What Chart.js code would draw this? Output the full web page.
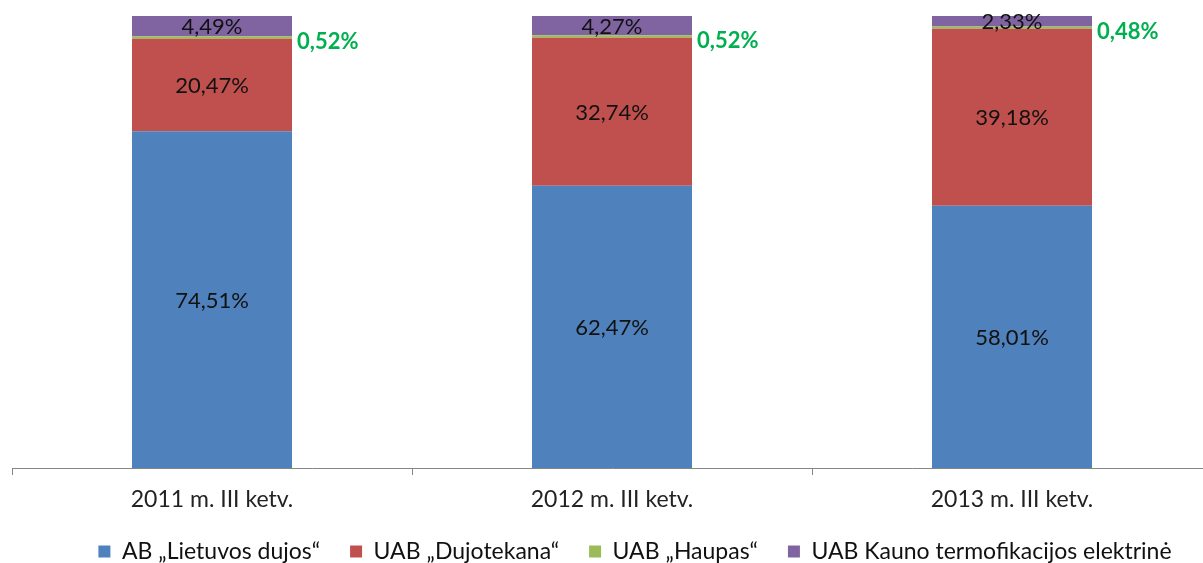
<!DOCTYPE html>
<html>
<head>
<meta charset="utf-8">
<script src="https://cdn.jsdelivr.net/npm/chart.js@4.4.0/dist/chart.umd.min.js"></script>
<style>
  html, body { margin: 0; padding: 0; background: #fff; overflow: hidden; }
  #wrap { position: relative; width: 1270px; height: 563px; }
</style>
</head>
<body>
<div id="wrap"><canvas id="chart"></canvas></div>
<script>
// periods on the x axis
const periods = ['2011 m. III ketv.', '2012 m. III ketv.', '2013 m. III ketv.'];

// market shares, %
const lietuvosDujos = [74.51, 62.47, 58.01];
const dujotekana = [20.47, 32.74, 39.18];
const haupas = [0.52, 0.52, 0.48];
const kaunoTE = [4.49, 4.27, 2.33];

const seriesNames = ['AB „Lietuvos dujos“', 'UAB „Dujotekana“', 'UAB „Haupas“', 'UAB Kauno termofikacijos elektrinė'];
const seriesColors = ['#4F81BD', '#C0504D', '#9BBB59', '#8064A2'];

const fmt = v => v.toFixed(2).replace('.', ',') + '%';

// draws the value labels, small green one goes to the right of the bar
const labelPlugin = {
  id: 'valueLabels',
  afterDatasetsDraw(chart) {
    const ctx = chart.ctx;
    ctx.save();
    chart.data.datasets.forEach((ds, i) => {
      const meta = chart.getDatasetMeta(i);
      meta.data.forEach((bar, j) => {
        const v = ds.data[j];
        const props = bar.getProps(['x', 'y', 'base', 'width'], true);
        const midY = (props.y + props.base) / 2;
        if (i === 2) {
          ctx.font = 'bold 22px Lato';
          ctx.fillStyle = '#00B050';
          ctx.textAlign = 'left';
          ctx.textBaseline = 'middle';
          ctx.fillText(fmt(v), props.x + props.width / 2 + 5, midY + 4);
        } else {
          ctx.font = '22px Lato';
          ctx.fillStyle = '#111';
          ctx.textAlign = 'center';
          ctx.textBaseline = 'middle';
          ctx.fillText(fmt(v), props.x, midY + 1);
        }
      });
    });
    ctx.restore();
  }
};

const allSeries = [lietuvosDujos, dujotekana, haupas, kaunoTE];

new Chart(document.getElementById('chart'), {
  type: 'bar',
  data: {
    labels: periods,
    datasets: allSeries.map((d, i) => ({
      label: seriesNames[i],
      data: d,
      backgroundColor: seriesColors[i],
      borderWidth: 0,
      barPercentage: 0.4,
      categoryPercentage: 1.0,
    })),
  },
  options: {
    responsive: true,
    maintainAspectRatio: false,
    animation: false,
    layout: { padding: { top: 16, bottom: 0 } },
    plugins: {
      legend: {
        position: 'bottom',
        maxHeight: 53,
        labels: {
          font: { family: 'Lato', size: 23 },
          color: '#111',
          boxWidth: 12,
          boxHeight: 12,
          padding: 30,
        },
      },
      tooltip: { enabled: false },
    },
    scales: {
      x: {
        stacked: true,
        grid: {
          display: true,
          drawOnChartArea: false,
          offset: true,
          tickLength: 7,
          color: '#868686',
        },
        border: { display: true, color: '#868686', width: 1 },
        ticks: {
          font: { family: 'Lato', size: 23 },
          color: '#222',
          padding: 11,
        },
        afterFit(scale) { scale.height = 42; },
      },
      y: {
        stacked: true,
        min: 0,
        max: 100,
        position: 'left',
        grid: { display: false },
        border: { display: false },
        ticks: { display: false },
        afterFit(scale) { scale.width = 12; },
      },
      yr: {
        position: 'right',
        grid: { display: false },
        border: { display: false },
        ticks: { display: false },
        afterFit(scale) { scale.width = 58; },
      },
    },
  },
  plugins: [labelPlugin],
});
</script>
</body>
</html>
